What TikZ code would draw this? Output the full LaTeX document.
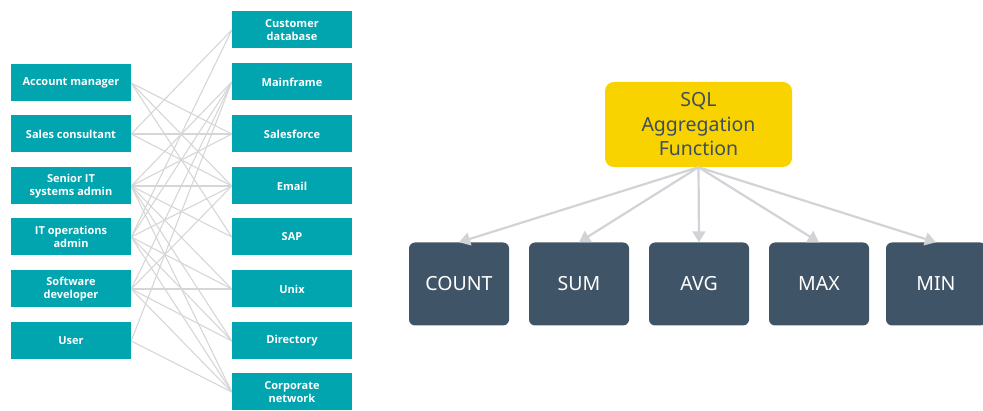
\documentclass[tikz,border=0pt]{standalone}
\usepackage{fontspec}
\setmainfont{Noto Sans}
\newfontfamily\boxfont{Open Sans}
\usetikzlibrary{arrows.meta}
\pgfdeclarelayer{wires}
\pgfsetlayers{wires,main}
\definecolor{teal}{HTML}{00A5AF}
\definecolor{wire}{HTML}{D6D6D6}
\definecolor{gold}{HTML}{F9D300}
\definecolor{slate}{HTML}{405467}
\definecolor{inkblue}{HTML}{3E4E60}
\definecolor{arrowgray}{HTML}{D2D3D7}
\begin{document}
\begin{tikzpicture}[x=1pt,y=-1pt,
  rolebox/.style={fill=teal,text=white,minimum width=120pt,minimum height=37pt,
    inner sep=0pt,align=center,font=\boxfont\bfseries\fontsize{11}{13}\selectfont},
  wire/.style={draw=wire,line width=1.1pt},
  funcbox/.style={fill=slate,text=white,rounded corners=6pt,minimum width=100pt,
    minimum height=83pt,inner sep=0pt,font=\fontsize{19.5}{22}\selectfont},
  headbox/.style={fill=gold,text=inkblue,rounded corners=9pt,minimum width=187pt,
    minimum height=85pt,inner sep=0pt,align=center,font=\fontsize{19.5}{24.5}\selectfont},
  fan/.style={draw=arrowgray,line width=2.2pt,-{Triangle[length=11pt,width=13pt]}}]
\useasboundingbox (0,0) rectangle (983,411);

% people
\node[rolebox] (am)  at (71,83)  {Account manager};
\node[rolebox] (sc)  at (71,134) {Sales consultant};
\node[rolebox] (sit) at (71,186) {Senior IT\\systems admin};
\node[rolebox] (ito) at (71,237) {IT operations\\admin};
\node[rolebox] (sd)  at (71,289) {Software\\developer};
\node[rolebox] (usr) at (71,341) {User};

% systems
\node[rolebox] (cdb) at (292,30)  {Customer\\database};
\node[rolebox] (mf)  at (292,82)  {Mainframe};
\node[rolebox] (sf)  at (292,134) {Salesforce};
\node[rolebox] (em)  at (292,186) {Email};
\node[rolebox] (sap) at (292,237) {SAP};
\node[rolebox] (ux)  at (292,289) {Unix};
\node[rolebox] (dir) at (292,341) {Directory};
\node[rolebox] (cn)  at (292,392) {Corporate\\network};

% access links, kept beneath the boxes
\begin{pgfonlayer}{wires}
\foreach \p/\s in {am/sf,am/em,am/sap,
                   sc/cdb,sc/sf,sc/em,
                   sit/mf,sit/sf,sit/em,sit/sap,sit/ux,sit/dir,sit/cn,
                   ito/cdb,ito/mf,ito/em,ito/ux,ito/dir,ito/cn,
                   sd/mf,sd/em,sd/ux,sd/dir,sd/cn,
                   usr/mf,usr/cn}
  \draw[wire] (\p.east) -- (\s.west);
\end{pgfonlayer}

% aggregation tree
\node[headbox] (agg) at (698.5,124.5) {SQL\\Aggregation\\Function};
\node[funcbox] (count) at (459,284) {COUNT};
\node[funcbox] (sum)   at (579,284) {SUM};
\node[funcbox] (avg)   at (699,284) {AVG};
\node[funcbox] (max)   at (819,284) {MAX};
\node[funcbox] (min)   at (936,284) {MIN};

\foreach \t in {count,sum,avg,max,min}
  \draw[fan] (agg.south) -- (\t.north);
\end{tikzpicture}
\end{document}
